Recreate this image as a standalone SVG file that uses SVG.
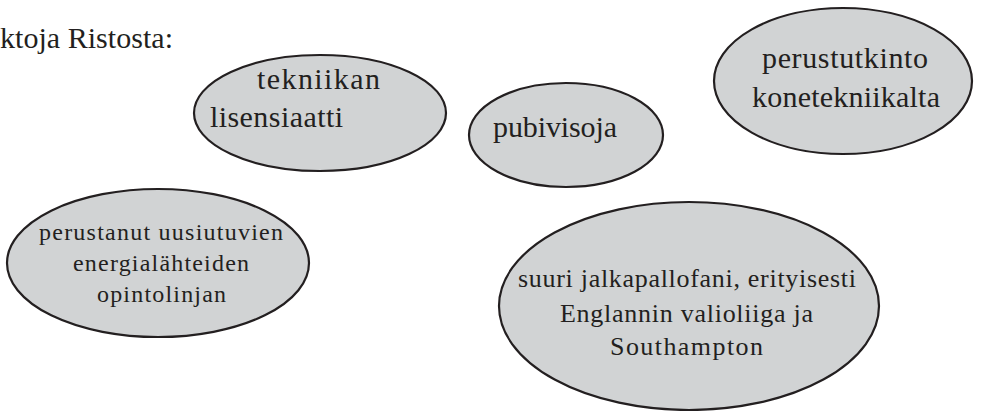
<svg xmlns="http://www.w3.org/2000/svg" width="992" height="411" viewBox="0 0 992 411">
<style>
.n{fill:#d1d3d4;stroke:#231f20;stroke-width:2.2}
text{font-family:'Liberation Serif','Times New Roman',serif;fill:#231f20}
.l{font-size:30px}
.m{font-size:26px}
.s{font-size:24px}
</style>
<rect width="992" height="411" fill="#ffffff"/>
<text class="l" x="0" y="48" textLength="173">ktoja Ristosta:</text>
<g id="connectors"></g>
<g id="n1">
<ellipse class="n" cx="320" cy="113" rx="126" ry="58"/>
<text class="l" x="257" y="89" textLength="123">tekniikan</text>
<text class="l" x="210" y="127" textLength="133">lisensiaatti</text>
</g>
<g id="n2">
<ellipse class="n" cx="566" cy="135" rx="97" ry="52"/>
<text class="l" x="493" y="137" textLength="124">pubivisoja</text>
</g>
<g id="n3">
<ellipse class="n" cx="843" cy="81" rx="129" ry="73"/>
<text class="l" x="762" y="68" textLength="166">perustutkinto</text>
<text class="l" x="752" y="107" textLength="188">konetekniikalta</text>
</g>
<g id="n4">
<ellipse class="n" cx="158" cy="263" rx="151" ry="74"/>
<text class="s" x="39" y="240" textLength="244">perustanut uusiutuvien</text>
<text class="s" x="73" y="271" textLength="176">energialähteiden</text>
<text class="s" x="97" y="302" textLength="129">opintolinjan</text>
</g>
<g id="n5">
<ellipse class="n" cx="689" cy="306" rx="190" ry="104"/>
<text class="m" x="518" y="287" textLength="338">suuri jalkapallofani, erityisesti</text>
<text class="m" x="560" y="322" textLength="253">Englannin valioliiga ja</text>
<text class="m" x="610" y="355" textLength="153">Southampton</text>
</g>
</svg>
